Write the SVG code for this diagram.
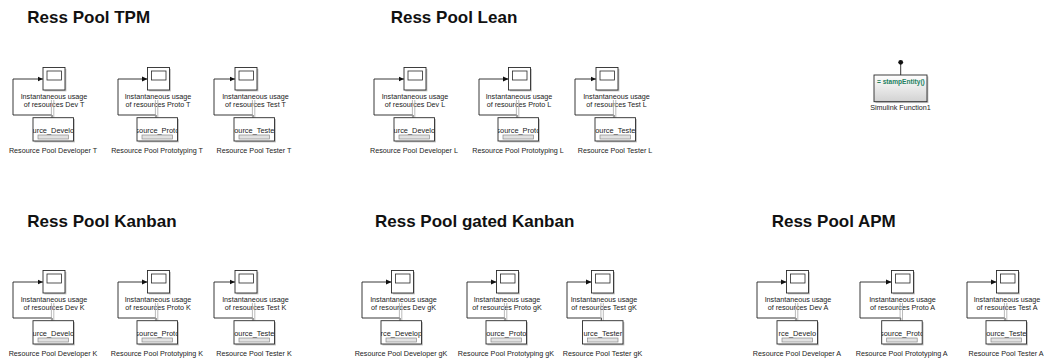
<svg xmlns="http://www.w3.org/2000/svg" width="1044" height="363" viewBox="0 0 1044 363">
<style>
.title{font-family:"Liberation Sans",Arial,sans-serif;font-weight:bold;font-size:17px;fill:#111}
.lbl{font-family:"Liberation Sans",Arial,sans-serif;font-size:7.2px;fill:#222;text-anchor:middle}
.pin{font-family:"Liberation Sans",Arial,sans-serif;font-size:7.4px;fill:#222;text-anchor:middle}
.fn{font-family:"Liberation Sans",Arial,sans-serif;font-size:6.6px;font-weight:bold;fill:#23805f}
.blk{fill:#fff;stroke:#2a2a2a;stroke-width:0.9}
.scr{fill:#fff;stroke:#2a2a2a;stroke-width:0.8}
.shd{fill:#c4c4c4}
.wire{fill:none;stroke:#222;stroke-width:0.9}
.port{stroke:#a8a8a8;stroke-width:0.8}
.bar{fill:#e2e2e2;stroke:#8a8a8a;stroke-width:0.7}
</style>
<defs>
<marker id="arr" markerWidth="6" markerHeight="6" refX="5.5" refY="3" orient="auto" markerUnits="userSpaceOnUse"><path d="M0,0.4 L5.5,3 L0,5.6 Z" fill="#111"/></marker>
<linearGradient id="fg" x1="0" y1="0" x2="0" y2="1"><stop offset="0" stop-color="#ffffff"/><stop offset="1" stop-color="#d2d2d2"/></linearGradient>
<clipPath id="poolClip"><rect x="-20" y="117.7" width="40.5" height="23.3"/></clipPath>
<clipPath id="fnClip"><rect x="874" y="75" width="53" height="26.7"/></clipPath>
<!-- scope icon, centred on x=0 -->
<g id="scopeIcon">
<rect class="shd" x="-9.6" y="68.9" width="22" height="22.5"/>
<rect class="blk" x="-11" y="67.5" width="22" height="22.5"/>
<rect class="scr" x="-7" y="71" width="14.5" height="9"/>
</g>
<!-- resource pool icon, centred on x=0 -->
<g id="poolIcon">
<line class="port" x1="-1.6" y1="100" x2="-1.6" y2="117.7"/>
<line class="port" x1="0.8" y1="100" x2="0.8" y2="117.7"/>
<rect class="shd" x="-18.6" y="119.1" width="40.5" height="23.3"/>
<rect class="blk" x="-20" y="117.7" width="40.5" height="23.3"/>
<rect class="bar" x="-15" y="135" width="30.5" height="4"/>
</g>
</defs>

<!-- section headings -->
<g id="titles">
<text class="title" x="27.3" y="22.7">Ress Pool TPM</text>
<text class="title" x="390.7" y="22.7">Ress Pool Lean</text>
<text class="title" x="27.3" y="226.5">Ress Pool Kanban</text>
<text class="title" x="375" y="226.5">Ress Pool gated Kanban</text>
<text class="title" x="771.7" y="226.5">Ress Pool APM</text>
</g>

<!-- feedback wires: pool output up, round to the scope input -->
<g id="connectors">
<path class="wire" marker-end="url(#arr)" d="M52 117.7 V115 H13 V79 H43"/>
<path class="wire" marker-end="url(#arr)" d="M156 117.7 V115 H118 V79 H147.5"/>
<path class="wire" marker-end="url(#arr)" d="M253 117.7 V115 H214 V79 H235"/>
<path class="wire" marker-end="url(#arr)" d="M413 117.7 V115 H374 V79 H404"/>
<path class="wire" marker-end="url(#arr)" d="M517 117.7 V115 H479 V79 H508.5"/>
<path class="wire" marker-end="url(#arr)" d="M614 117.7 V115 H575 V79 H596"/>
<path class="wire" marker-end="url(#arr)" d="M52 320.7 V318 H13 V282 H43"/>
<path class="wire" marker-end="url(#arr)" d="M156 320.7 V318 H118 V282 H147.5"/>
<path class="wire" marker-end="url(#arr)" d="M253 320.7 V318 H214 V282 H235"/>
<path class="wire" marker-end="url(#arr)" d="M400 320.7 V318 H362 V282 H391.5"/>
<path class="wire" marker-end="url(#arr)" d="M505 320.7 V318 H467 V282 H496.5"/>
<path class="wire" marker-end="url(#arr)" d="M601.5 320.7 V318 H567 V282 H591.5"/>
<path class="wire" marker-end="url(#arr)" d="M796 320.7 V318 H757 V282 H786.5"/>
<path class="wire" marker-end="url(#arr)" d="M900.7 320.7 V318 H860 V282 H891.5"/>
<path class="wire" marker-end="url(#arr)" d="M1005 320.7 V318 H967 V282 H996.5"/>
<path class="wire" d="M900.7 62.3 V75"/>
</g>

<!-- TPM -->
<g id="scopeDevT" transform="translate(54,0)"><use href="#scopeIcon"/><text class="lbl" x="0" y="99.2">Instantaneous usage</text><text class="lbl" x="0" y="107.4">of resources Dev T</text></g>
<g id="poolDevT" transform="translate(53,0)"><use href="#poolIcon"/><text class="pin" x="0.3" y="133.3" clip-path="url(#poolClip)">urce_Develo</text><text class="lbl" x="0" y="152.5">Resource Pool Developer T</text></g>
<g id="scopeProtoT" transform="translate(158.5,0)"><use href="#scopeIcon"/><text class="lbl" x="-0.5" y="99.2">Instantaneous usage</text><text class="lbl" x="-0.5" y="107.4">of resources Proto T</text></g>
<g id="poolProtoT" transform="translate(157,0)"><use href="#poolIcon"/><text class="pin" x="0.3" y="133.3" clip-path="url(#poolClip)">source_Proto</text><text class="lbl" x="0" y="152.5">Resource Pool Prototyping T</text></g>
<g id="scopeTestT" transform="translate(246,0)"><use href="#scopeIcon"/><text class="lbl" x="9.5" y="99.2">Instantaneous usage</text><text class="lbl" x="9.5" y="107.4">of resources Test T</text></g>
<g id="poolTestT" transform="translate(254,0)"><use href="#poolIcon"/><text class="pin" x="0.3" y="133.3" clip-path="url(#poolClip)">ource_Teste</text><text class="lbl" x="0" y="152.5">Resource Pool Tester T</text></g>

<!-- Lean -->
<g id="scopeDevL" transform="translate(415,0)"><use href="#scopeIcon"/><text class="lbl" x="0" y="99.2">Instantaneous usage</text><text class="lbl" x="0" y="107.4">of resources Dev L</text></g>
<g id="poolDevL" transform="translate(414,0)"><use href="#poolIcon"/><text class="pin" x="0.3" y="133.3" clip-path="url(#poolClip)">urce_Develo</text><text class="lbl" x="0" y="152.5">Resource Pool Developer L</text></g>
<g id="scopeProtoL" transform="translate(519.5,0)"><use href="#scopeIcon"/><text class="lbl" x="-0.5" y="99.2">Instantaneous usage</text><text class="lbl" x="-0.5" y="107.4">of resources Proto L</text></g>
<g id="poolProtoL" transform="translate(518,0)"><use href="#poolIcon"/><text class="pin" x="0.3" y="133.3" clip-path="url(#poolClip)">source_Proto</text><text class="lbl" x="0" y="152.5">Resource Pool Prototyping L</text></g>
<g id="scopeTestL" transform="translate(607,0)"><use href="#scopeIcon"/><text class="lbl" x="9.5" y="99.2">Instantaneous usage</text><text class="lbl" x="9.5" y="107.4">of resources Test L</text></g>
<g id="poolTestL" transform="translate(615,0)"><use href="#poolIcon"/><text class="pin" x="0.3" y="133.3" clip-path="url(#poolClip)">ource_Teste</text><text class="lbl" x="0" y="152.5">Resource Pool Tester L</text></g>

<!-- Kanban -->
<g id="scopeDevK" transform="translate(54,203)"><use href="#scopeIcon"/><text class="lbl" x="0" y="99.2">Instantaneous usage</text><text class="lbl" x="0" y="107.4">of resources Dev K</text></g>
<g id="poolDevK" transform="translate(53,203)"><use href="#poolIcon"/><text class="pin" x="0.3" y="133.3" clip-path="url(#poolClip)">urce_Develo</text><text class="lbl" x="0" y="152.5">Resource Pool Developer K</text></g>
<g id="scopeProtoK" transform="translate(158.5,203)"><use href="#scopeIcon"/><text class="lbl" x="-0.5" y="99.2">Instantaneous usage</text><text class="lbl" x="-0.5" y="107.4">of resources Proto K</text></g>
<g id="poolProtoK" transform="translate(157,203)"><use href="#poolIcon"/><text class="pin" x="0.3" y="133.3" clip-path="url(#poolClip)">source_Proto</text><text class="lbl" x="0" y="152.5">Resource Pool Prototyping K</text></g>
<g id="scopeTestK" transform="translate(246,203)"><use href="#scopeIcon"/><text class="lbl" x="9.5" y="99.2">Instantaneous usage</text><text class="lbl" x="9.5" y="107.4">of resources Test K</text></g>
<g id="poolTestK" transform="translate(254,203)"><use href="#poolIcon"/><text class="pin" x="0.3" y="133.3" clip-path="url(#poolClip)">ource_Teste</text><text class="lbl" x="0" y="152.5">Resource Pool Tester K</text></g>

<!-- gated Kanban -->
<g id="scopeDevGK" transform="translate(402.5,203)"><use href="#scopeIcon"/><text class="lbl" x="1" y="99.2">Instantaneous usage</text><text class="lbl" x="1" y="107.4">of resources Dev gK</text></g>
<g id="poolDevGK" transform="translate(401,203)"><use href="#poolIcon"/><text class="pin" x="0.3" y="133.3" clip-path="url(#poolClip)">rce_Develop</text><text class="lbl" x="0" y="152.5">Resource Pool Developer gK</text></g>
<g id="scopeProtoGK" transform="translate(507.5,203)"><use href="#scopeIcon"/><text class="lbl" x="-0.5" y="99.2">Instantaneous usage</text><text class="lbl" x="-0.5" y="107.4">of resources Proto gK</text></g>
<g id="poolProtoGK" transform="translate(506,203)"><use href="#poolIcon"/><text class="pin" x="0.3" y="133.3" clip-path="url(#poolClip)">ource_Proto</text><text class="lbl" x="0" y="152.5">Resource Pool Prototyping gK</text></g>
<g id="scopeTestGK" transform="translate(602.5,203)"><use href="#scopeIcon"/><text class="lbl" x="1.5" y="99.2">Instantaneous usage</text><text class="lbl" x="1.5" y="107.4">of resources Test gK</text></g>
<g id="poolTestGK" transform="translate(602.5,203)"><use href="#poolIcon"/><text class="pin" x="0.3" y="133.3" clip-path="url(#poolClip)">urce_Tester</text><text class="lbl" x="0" y="152.5">Resource Pool Tester gK</text></g>

<!-- APM -->
<g id="scopeDevA" transform="translate(797.5,203)"><use href="#scopeIcon"/><text class="lbl" x="0.5" y="99.2">Instantaneous usage</text><text class="lbl" x="0.5" y="107.4">of resources Dev A</text></g>
<g id="poolDevA" transform="translate(797,203)"><use href="#poolIcon"/><text class="pin" x="0.3" y="133.3" clip-path="url(#poolClip)">rce_Develo</text><text class="lbl" x="0" y="152.5">Resource Pool Developer A</text></g>
<g id="scopeProtoA" transform="translate(902.5,203)"><use href="#scopeIcon"/><text class="lbl" x="0" y="99.2">Instantaneous usage</text><text class="lbl" x="0" y="107.4">of resources Proto A</text></g>
<g id="poolProtoA" transform="translate(901.7,203)"><use href="#poolIcon"/><text class="pin" x="0.3" y="133.3" clip-path="url(#poolClip)">source_Proto</text><text class="lbl" x="0" y="152.5">Resource Pool Prototyping A</text></g>
<g id="scopeTestA" transform="translate(1007.5,203)"><use href="#scopeIcon"/><text class="lbl" x="-0.5" y="99.2">Instantaneous usage</text><text class="lbl" x="-0.5" y="107.4">of resources Test A</text></g>
<g id="poolTestA" transform="translate(1006,203)"><use href="#poolIcon"/><text class="pin" x="0.3" y="133.3" clip-path="url(#poolClip)">ource_Teste</text><text class="lbl" x="0" y="152.5">Resource Pool Tester A</text></g>

<!-- function-call subsystem with its trigger port -->
<g id="simulinkFunction1">
<circle cx="900.7" cy="62.3" r="2.4" fill="#111"/>
<rect x="875.4" y="76.4" width="53" height="26.7" class="shd"/>
<rect x="874" y="75" width="53" height="26.7" fill="url(#fg)" stroke="#2a2a2a" stroke-width="0.9"/>
<text class="fn" x="877" y="84" clip-path="url(#fnClip)">= stampEntity()</text>
<text class="lbl" x="900.5" y="109.5">Simulink Function1</text>
</g>
</svg>
